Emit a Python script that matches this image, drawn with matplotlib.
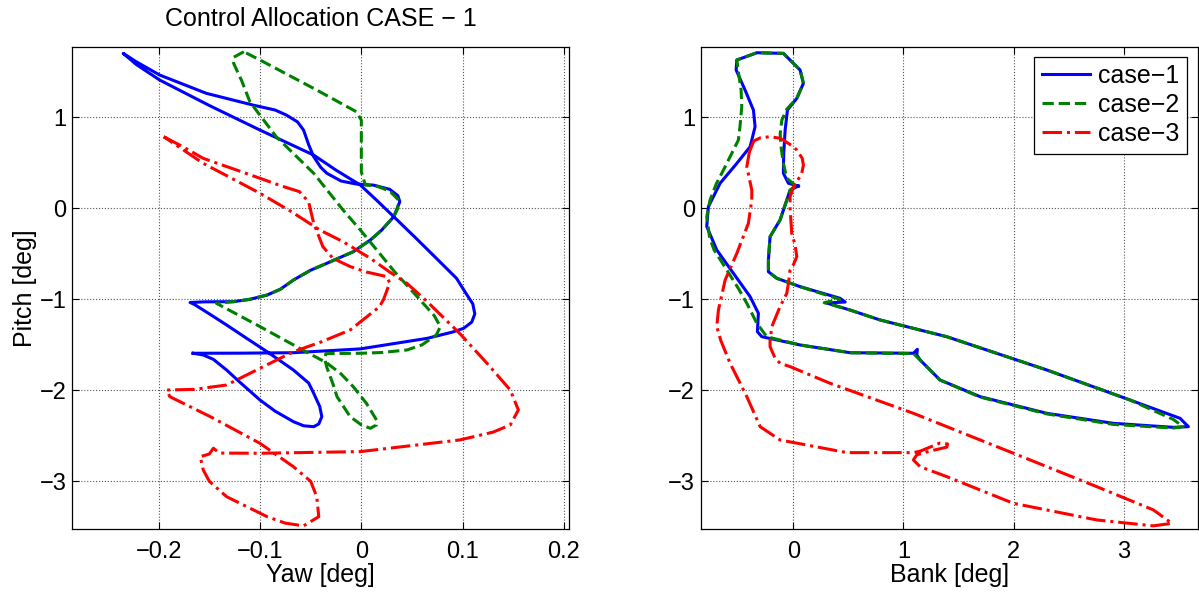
import matplotlib
matplotlib.use("Agg")
import matplotlib.pyplot as plt

plt.rcParams['font.family'] = ['Liberation Sans', 'DejaVu Sans']
plt.rcParams['font.size'] = 17

# ---- left panel: yaw vs pitch ----
yaw_1 = [-0.166, -0.120, -0.067, -0.001, 0.065, 0.090, 0.101, 0.109, 0.112, 0.110, 0.103, 0.094,
         0.075, 0.055, 0.032, 0.015, -0.001, -0.025, -0.047, -0.100, -0.150, -0.199, -0.222, -0.235,
         -0.222, -0.199, -0.153, -0.107, -0.085, -0.074, -0.063, -0.057, -0.052, -0.047, -0.040,
         -0.034, -0.020, -0.005, 0.012, 0.028, 0.036, 0.038, 0.035, 0.032, 0.020, 0.009, -0.008,
         -0.034, -0.050, -0.067, -0.080, -0.093, -0.110, -0.126, -0.155, -0.169, -0.165, -0.150,
         -0.133, -0.113, -0.093, -0.067, -0.052, -0.047, -0.041, -0.039, -0.042, -0.047, -0.057,
         -0.067, -0.085, -0.100, -0.120, -0.133, -0.146, -0.156, -0.166]
pitch_1 = [-1.593, -1.592, -1.587, -1.545, -1.429, -1.36, -1.319, -1.25, -1.16, -1.05, -0.93, -0.77,
           -0.56, -0.34, -0.092, 0.09, 0.256, 0.42, 0.585, 0.86, 1.13, 1.41, 1.58, 1.703,
           1.61, 1.465, 1.264, 1.135, 1.08, 1.025, 0.95, 0.86, 0.70, 0.567, 0.45,
           0.385, 0.30, 0.267, 0.255, 0.209, 0.14, 0.073, -0.01, -0.092, -0.24, -0.348, -0.477,
           -0.604, -0.68, -0.788, -0.89, -0.953, -1.00, -1.026, -1.028, -1.035, -1.055, -1.16,
           -1.282, -1.43, -1.576, -1.777, -1.92, -2.033, -2.18, -2.29, -2.37, -2.40, -2.39,
           -2.345, -2.23, -2.107, -1.91, -1.777, -1.66, -1.612, -1.593]

yaw_2 = [-0.116, -0.126, -0.126, -0.118, -0.110, -0.084, -0.047, -0.018, -0.001, 0.018, 0.033,
         0.047, 0.061, 0.072, 0.078, 0.074, 0.060, 0.045, 0.020, -0.001, -0.035, -0.036, -0.034,
         -0.028, -0.024, -0.011, 0.000, 0.009, 0.015, 0.015, 0.005, -0.008, -0.020, -0.034, -0.061,
         -0.100, -0.143, -0.126, -0.110, -0.093, -0.080, -0.067, -0.050, -0.034, -0.008, 0.009,
         0.020, 0.032, 0.036, 0.036, 0.028, 0.015, 0.004, 0.000, 0.000, 0.000, -0.005, -0.044,
         -0.100, -0.116]
pitch_2 = [1.721, 1.66, 1.593, 1.40, 1.171, 0.787, 0.385, -0.019, -0.238, -0.495, -0.70,
           -0.87, -1.044, -1.18, -1.30, -1.392, -1.50, -1.557, -1.585, -1.593, -1.597, -1.66, -1.75,
           -1.93, -2.07, -2.29, -2.38, -2.418, -2.38, -2.326, -2.143, -1.96, -1.82, -1.70, -1.538,
           -1.30, -1.044, -1.026, -1.00, -0.953, -0.89, -0.788, -0.68, -0.604, -0.477, -0.348,
           -0.24, -0.092, 0.0, 0.10, 0.19, 0.245, 0.256, 0.40, 0.70, 0.97, 1.062, 1.30,
           1.63, 1.721]

yaw_3 = [-0.195, -0.175, -0.156, -0.128, -0.100, -0.080, -0.061, -0.052, -0.047, -0.038, -0.028,
         -0.011, 0.005, 0.025, 0.028, 0.022, 0.018, -0.011, -0.040, -0.067, -0.100, -0.133, -0.165,
         -0.192, -0.189, -0.149, -0.100, -0.067, -0.050, -0.044, -0.042, -0.057, -0.075, -0.093,
         -0.133, -0.150, -0.156, -0.159, -0.150, -0.146, -0.140, -0.100, -0.001, 0.097, 0.130,
         0.147, 0.155, 0.147, 0.124, 0.097, 0.065, 0.045, 0.028, 0.009, -0.018, -0.041, -0.070,
         -0.100, -0.128, -0.156, -0.195]
pitch_3 = [0.787, 0.67, 0.549, 0.44, 0.33, 0.25, 0.183, 0.07, -0.165, -0.42, -0.55,
           -0.64, -0.70, -0.75, -0.82, -1.0, -1.081, -1.337, -1.47, -1.576, -1.758, -1.942, -1.99,
           -1.997, -2.07, -2.29, -2.583, -2.84, -3.0, -3.169, -3.389, -3.49, -3.46, -3.389,
           -3.169, -3.0, -2.876, -2.73, -2.70, -2.637, -2.69, -2.692, -2.674, -2.546, -2.46,
           -2.381, -2.216, -1.997, -1.703, -1.374, -1.026, -0.824, -0.70, -0.55, -0.367, -0.238, -0.03,
           0.165, 0.33, 0.494, 0.787]

# ---- right panel: bank vs pitch ----
bank_1 = [0.045, -0.045, -0.091, -0.088, -0.075, -0.054, 0.031, 0.091, 0.061, -0.091, -0.332,
          -0.514, -0.520, -0.439, -0.363, -0.348, -0.393, -0.514, -0.666, -0.772, -0.787, -0.696,
          -0.545, -0.393, -0.318, -0.327, -0.287, 0.061, 0.515, 1.090, 1.126, 1.120, 1.151, 1.332,
          1.696, 2.302, 2.906, 3.451, 3.588, 3.512, 3.058, 2.302, 1.393, 0.787, 0.515, 0.300,
          0.470, 0.424, 0.061, -0.151, -0.227, -0.227, -0.212, -0.121, -0.060, -0.030, 0.045]
pitch_r1 = [0.245, 0.275, 0.385, 0.60, 0.86, 1.08, 1.209, 1.374, 1.52, 1.703, 1.71,
            1.63, 1.52, 1.30, 1.08, 0.897, 0.677, 0.494, 0.275, 0.018, -0.2, -0.458,
            -0.714, -0.971, -1.154, -1.356, -1.411, -1.502, -1.587, -1.593, -1.55, -1.61, -1.667, -1.887,
            -2.07, -2.253, -2.363, -2.407, -2.40, -2.308, -2.107, -1.777, -1.411, -1.227, -1.118, -1.04,
            -1.03, -0.989, -0.861, -0.769, -0.697, -0.568, -0.312, -0.128, 0.091, 0.20, 0.245]

bank_2 = [0.020, -0.060, -0.091, -0.115, -0.120, -0.105, -0.060, 0.031, 0.091, 0.061, -0.091,
          -0.332, -0.514, -0.500, -0.475, -0.469, -0.485, -0.500, -0.620, -0.700, -0.757, -0.787,
          -0.760, -0.720, -0.605, -0.500, -0.423, -0.332, -0.242, 0.061, 0.515, 1.090, 1.151, 1.332,
          1.696, 2.302, 2.906, 3.451, 3.540, 3.450, 3.058, 2.302, 1.393, 0.787, 0.515, 0.280,
          0.420, 0.061, -0.151, -0.227, -0.227, -0.212, -0.121, -0.060, -0.030, 0.020]
pitch_r2 = [0.25, 0.33, 0.494, 0.70, 0.82, 0.97, 1.09, 1.209, 1.374, 1.52, 1.703,
            1.71, 1.63, 1.50, 1.30, 1.117, 0.90, 0.75, 0.457, 0.27, 0.091, -0.092,
            -0.33, -0.458, -0.678, -0.88, -1.044, -1.264, -1.411, -1.502, -1.587, -1.597, -1.667, -1.887,
            -2.075, -2.26, -2.375, -2.415, -2.40, -2.32, -2.107, -1.777, -1.411, -1.227, -1.118, -1.037,
            -1.0, -0.861, -0.769, -0.697, -0.568, -0.312, -0.128, 0.091, 0.20, 0.25]

bank_3 = [-0.400, -0.360, -0.300, -0.212, -0.121, -0.091, 0.000, 0.031, 0.080, 0.091, 0.076, 0.061,
          0.015, -0.030, -0.030, -0.015, 0.015, 0.031, 0.000, -0.030, -0.045, -0.060, -0.121, -0.196,
          -0.212, -0.212, -0.166, -0.121, -0.030, 0.333, 1.090, 1.998, 2.755, 3.270, 3.437, 3.270,
          2.755, 1.998, 1.393, 1.151, 1.090, 1.120, 1.250, 1.393, 1.400, 1.330, 1.150, 1.090, 0.485,
          -0.121, -0.302, -0.423, -0.575, -0.660, -0.696, -0.681, -0.620, -0.514, -0.409, -0.378,
          -0.378, -0.423, -0.400]
pitch_r3 = [0.62, 0.74, 0.775, 0.787, 0.77, 0.75, 0.677, 0.64, 0.55, 0.476, 0.385, 0.347,
            0.275, 0.128, 0.0, -0.275, -0.40, -0.531, -0.62, -0.678, -0.824, -0.934, -1.08, -1.30,
            -1.45, -1.521, -1.648, -1.703, -1.74, -1.923, -2.253, -2.692, -3.059, -3.315, -3.462, -3.49,
            -3.425, -3.242, -2.949, -2.84, -2.766, -2.71, -2.665, -2.625, -2.59, -2.58, -2.67, -2.685, -2.685,
            -2.546, -2.40, -2.07, -1.703, -1.45, -1.30, -1.118, -0.788, -0.495, -0.165, 0.091,
            0.201, 0.457, 0.62]

labels = ['case\u22121', 'case\u22122', 'case\u22123']
colors = ['#0000ff', '#008000', '#ff0000']
styles = ['-', '--', '-.']

fig = plt.figure(figsize=(11.99, 5.95), dpi=100)
ax1 = fig.add_axes([0.060, 0.111, 0.4146, 0.810])
ax2 = fig.add_axes([0.5844, 0.111, 0.4145, 0.810])

left = [(yaw_1, pitch_1), (yaw_2, pitch_2), (yaw_3, pitch_3)]
right = [(bank_1, pitch_r1), (bank_2, pitch_r2), (bank_3, pitch_r3)]

for i in range(3):
    ax1.plot(left[i][0], left[i][1], styles[i], color=colors[i], lw=2.2)
    ax2.plot(right[i][0], right[i][1], styles[i], color=colors[i], lw=2.2, label=labels[i])

for ax in (ax1, ax2):
    ax.set_ylim(-3.524, 1.773)
    ax.set_yticks([-3, -2, -1, 0, 1])
    ax.grid(True, linestyle=':', color='#555555', lw=0.8)
    ax.tick_params(direction='in', top=True, right=True, length=5, labelsize=17)
    ax.tick_params(axis='x', pad=9)
    ax.tick_params(axis='y', pad=4)
    for s in ax.spines.values():
        s.set_linewidth(0.9)

ax1.set_xlim(-0.2856, 0.205)
ax1.set_xticks([-0.2, -0.1, 0, 0.1, 0.2])
ax1.set_xticklabels(['\u22120.2', '\u22120.1', '0', '0.1', '0.2'])
ax1.set_xlabel('Yaw [deg]', fontsize=18, labelpad=0)
ax1.set_ylabel('Pitch [deg]', fontsize=18, labelpad=2)
ax1.set_title('Control Allocation CASE \u2212 1', fontsize=18, pad=15)

ax2.set_xlim(-0.842, 3.672)
ax2.set_xticks([0, 1, 2, 3])
ax2.set_xlabel('Bank [deg]', fontsize=18, labelpad=0)

leg = ax2.legend(loc='upper right', bbox_to_anchor=(0.978, 0.980), fontsize=18,
                 fancybox=False, edgecolor='black', framealpha=1, handlelength=1.95,
                 borderaxespad=0, labelspacing=0.2, handletextpad=0.3, borderpad=0.3)
leg.get_frame().set_linewidth(0.9)

fig.savefig('out.png', dpi=100)
